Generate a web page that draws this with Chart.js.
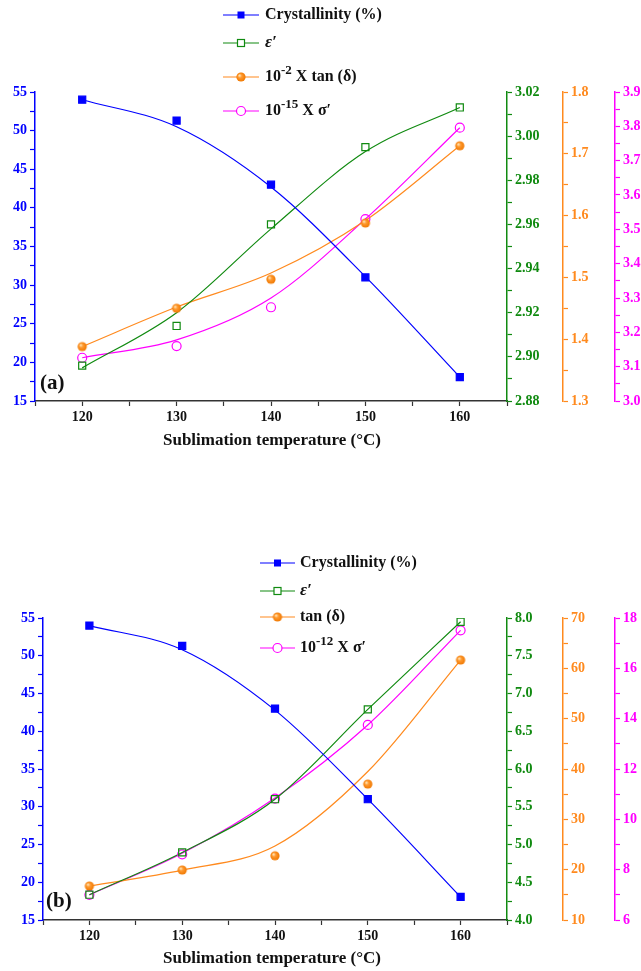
<!DOCTYPE html>
<html>
<head>
<meta charset="utf-8">
<script src="https://cdn.jsdelivr.net/npm/chart.js@4"></script>
<style>
  html, body { margin: 0; padding: 0; background: #fff; }
  #wrap { position: relative; width: 641px; height: 971px; overflow: hidden; }
  canvas { position: absolute; left: 0; }
</style>
</head>
<body>
<div id="wrap">
  <canvas id="chartA" width="641" height="470" style="top:0"></canvas>
  <canvas id="chartB" width="641" height="501" style="top:470px"></canvas>
</div>
<script>
// ---------- data ----------
const temps = [120, 130, 140, 150, 160];
const xTickLabels = [120, 130, 140, 150, 160];

// panel (a)
const crystA    = [54.0, 51.3, 43.0, 31.0, 18.1];
const crystFitA = [54.0, 50.5, 42.7, 31.1, 18.1];
const epsA      = [2.896, 2.914, 2.960, 2.995, 3.013];
const epsFitA   = [2.895, 2.920, 2.958, 2.993, 3.013];
const tanA      = [1.388, 1.450, 1.497, 1.588, 1.713];
const tanFitA   = [1.388, 1.452, 1.507, 1.592, 1.713];
const sigA      = [3.126, 3.160, 3.273, 3.530, 3.796];
const sigFitA   = [3.126, 3.178, 3.300, 3.530, 3.796];

// panel (b)
const crystB    = [54.0, 51.3, 43.0, 31.0, 18.05];
const crystFitB = [54.0, 50.8, 42.8, 31.0, 18.05];
const epsB      = [4.335, 4.895, 5.600, 6.790, 7.950];
const epsFitB   = [4.335, 4.895, 5.600, 6.790, 7.950];
const tanB      = [16.75, 19.93, 22.76, 37.0, 61.65];
const tanFitB   = [16.75, 19.90, 24.70, 39.5, 61.65];
const sigB      = [7.00, 8.61, 10.82, 13.75, 17.51];
const sigFitB   = [7.00, 8.65, 10.85, 13.75, 17.51];

// ---------- styles ----------
const BLUE = '#0000FF', GREEN = '#108A10', ORANGE = '#FF8A1E', MAGENTA = '#FF00FF';
const SERIF = '"Liberation Serif", "Times New Roman", serif';

// orange sphere marker
function makeSphere(r) {
  const c = document.createElement('canvas');
  const s = Math.ceil(r * 2 + 2);
  c.width = s; c.height = s;
  const g = c.getContext('2d');
  const cx = s / 2, cy = s / 2;
  const grad = g.createRadialGradient(cx - r * 0.35, cy - r * 0.35, 0.5, cx, cy, r);
  grad.addColorStop(0, '#FFE2B0');
  grad.addColorStop(0.35, '#FF9A30');
  grad.addColorStop(1, '#F07800');
  g.fillStyle = grad;
  g.beginPath(); g.arc(cx, cy, r, 0, Math.PI * 2); g.fill();
  return c;
}
const sphere = makeSphere(4.6);

function pts(xs, ys) { return xs.map((x, i) => ({ x: x, y: ys[i] })); }

function markerSet(label, data, axis, color, kind) {
  const ds = { label, data, yAxisID: axis, showLine: false, borderColor: color, pointBorderColor: color,
               pointBorderWidth: 1.2, pointHoverRadius: 0 };
  if (kind === 'fsq') { ds.pointStyle = 'rect'; ds.pointRadius = 5; ds.pointBackgroundColor = color; }
  if (kind === 'osq') { ds.pointStyle = 'rect'; ds.pointRadius = 5; ds.pointBackgroundColor = 'rgba(255,255,255,0)'; }
  if (kind === 'ocir') { ds.pointStyle = 'circle'; ds.pointRadius = 4.5; ds.pointBackgroundColor = 'rgba(255,255,255,0)'; }
  if (kind === 'sph') { ds.pointStyle = sphere; ds.pointRadius = 5; }
  return ds;
}
function fitSet(data, axis, color) {
  return { data, yAxisID: axis, showLine: true, borderColor: color, borderWidth: 1.2, pointRadius: 0,
           cubicInterpolationMode: 'monotone', fill: false };
}

function yAxis(pos, min, max, step, color, width, labelFn) {
  return {
    type: 'linear', position: pos, min, max,
    afterFit: s => { s.width = width; },
    grid: { drawOnChartArea: false, drawTicks: true, tickLength: 5, tickColor: color, tickWidth: 1.2 },
    border: { display: true, color: color, width: 1.5 },
    ticks: { stepSize: step, autoSkip: false, maxTicksLimit: 200, color: color, padding: 3,
             font: { family: SERIF, weight: 'bold', size: 14 }, callback: labelFn }
  };
}
function xAxis(height) {
  return {
    type: 'linear', position: 'bottom', min: 115, max: 165,
    afterFit: s => { s.height = height; },
    grid: { drawOnChartArea: false, drawTicks: true, tickLength: 5, tickColor: '#333', tickWidth: 1.2 },
    border: { display: true, color: '#333', width: 1.6 },
    ticks: { stepSize: 5, autoSkip: false, maxRotation: 0, color: '#111', padding: 3,
             font: { family: SERIF, weight: 'bold', size: 14 },
             callback: v => (xTickLabels.indexOf(v) >= 0 ? String(v) : '') }
  };
}

// ---------- overlay plugin: legend, x title, panel label ----------
function drawMarker(ctx, kind, color, x, y) {
  ctx.save();
  ctx.lineWidth = 1.2; ctx.strokeStyle = color; ctx.fillStyle = color;
  if (kind === 'fsq') { ctx.fillRect(x - 3.5, y - 3.5, 7, 7); }
  if (kind === 'osq') { ctx.fillStyle = '#fff'; ctx.fillRect(x - 3.5, y - 3.5, 7, 7); ctx.strokeRect(x - 3.5, y - 3.5, 7, 7); }
  if (kind === 'ocir') { ctx.fillStyle = '#fff'; ctx.beginPath(); ctx.arc(x, y, 4.5, 0, Math.PI * 2); ctx.fill(); ctx.stroke(); }
  if (kind === 'sph') { ctx.drawImage(sphere, x - sphere.width / 2, y - sphere.height / 2); }
  ctx.restore();
}
function drawSegs(ctx, segs, x, y) {
  ctx.textBaseline = 'middle'; ctx.textAlign = 'left'; ctx.fillStyle = '#111';
  segs.forEach(s => {
    ctx.font = s.font;
    ctx.fillText(s.t, x, y + (s.dy || 0));
    x += ctx.measureText(s.t).width;
  });
}
const F = 'bold 16px ' + SERIF, FI = 'italic bold 17px ' + SERIF, FS = 'bold 13px ' + SERIF;

function overlay(cfg) {
  return {
    id: 'overlay',
    afterDraw(chart) {
      const ctx = chart.ctx;
      ctx.save();
      cfg.legend.forEach(r => {
        ctx.strokeStyle = r.color; ctx.lineWidth = 1.2;
        ctx.beginPath(); ctx.moveTo(cfg.lx1, r.y); ctx.lineTo(cfg.lx2, r.y); ctx.stroke();
        drawMarker(ctx, r.kind, r.color, (cfg.lx1 + cfg.lx2) / 2, r.y);
        drawSegs(ctx, r.segs, cfg.tx, r.y);
      });
      ctx.font = 'bold 17px ' + SERIF; ctx.fillStyle = '#111';
      ctx.textAlign = 'center'; ctx.textBaseline = 'middle';
      ctx.fillText('Sublimation temperature (°C)', 272, cfg.titleY);
      ctx.font = 'bold 21px ' + SERIF; ctx.textAlign = 'left';
      ctx.fillText(cfg.panel, cfg.panelX, cfg.panelY);
      ctx.restore();
    }
  };
}

function fmt(dec, every) {
  return v => {
    const k = Math.round(v / every * 1000) / 1000;
    return Math.abs(k - Math.round(k)) < 1e-6 ? v.toFixed(dec) : '';
  };
}

// ---------- chart (a) ----------
new Chart(document.getElementById('chartA'), {
  type: 'scatter',
  data: { datasets: [
    markerSet('Crystallinity (%)', pts(temps, crystA), 'yCr', BLUE, 'fsq'),
    markerSet("ε'", pts(temps, epsA), 'yEps', GREEN, 'osq'),
    markerSet('tan', pts(temps, tanA), 'yTan', ORANGE, 'sph'),
    markerSet('sigma', pts(temps, sigA), 'ySig', MAGENTA, 'ocir'),
    fitSet(pts(temps, crystFitA), 'yCr', BLUE),
    fitSet(pts(temps, epsFitA), 'yEps', GREEN),
    fitSet(pts(temps, tanFitA), 'yTan', ORANGE),
    fitSet(pts(temps, sigFitA), 'ySig', MAGENTA)
  ]},
  options: {
    responsive: false, animation: false, devicePixelRatio: 1,
    layout: { padding: { top: 92, bottom: 9, left: 0, right: 0 } },
    plugins: { legend: { display: false }, tooltip: { enabled: false } },
    events: [],
    scales: {
      x: xAxis(60),
      yCr: yAxis('left', 15, 55, 2.5, BLUE, 35, fmt(0, 5)),
      yEps: yAxis('right', 2.88, 3.02, 0.01, GREEN, 56, fmt(2, 0.02)),
      yTan: yAxis('right', 1.3, 1.8, 0.05, ORANGE, 52, fmt(1, 0.1)),
      ySig: yAxis('right', 3.0, 3.9, 0.05, MAGENTA, 26, fmt(1, 0.1))
    }
  },
  plugins: [overlay({
    lx1: 223, lx2: 259, tx: 265, titleY: 441, panel: '(a)', panelX: 40, panelY: 384,
    legend: [
      { y: 15, color: BLUE, kind: 'fsq', segs: [{ t: 'Crystallinity (%)', font: F }] },
      { y: 43, color: GREEN, kind: 'osq', segs: [{ t: 'ε′', font: FI }] },
      { y: 77, color: ORANGE, kind: 'sph', segs: [{ t: '10', font: F }, { t: '-2', font: FS, dy: -6 }, { t: ' X tan (δ)', font: F }] },
      { y: 111, color: MAGENTA, kind: 'ocir', segs: [{ t: '10', font: F }, { t: '-15', font: FS, dy: -6 }, { t: ' X σ′', font: F }] }
    ]
  })]
});

// ---------- chart (b) ----------
new Chart(document.getElementById('chartB'), {
  type: 'scatter',
  data: { datasets: [
    markerSet('Crystallinity (%)', pts(temps, crystB), 'yCr', BLUE, 'fsq'),
    markerSet("ε'", pts(temps, epsB), 'yEps', GREEN, 'osq'),
    markerSet('tan', pts(temps, tanB), 'yTan', ORANGE, 'sph'),
    markerSet('sigma', pts(temps, sigB), 'ySig', MAGENTA, 'ocir'),
    fitSet(pts(temps, crystFitB), 'yCr', BLUE),
    fitSet(pts(temps, epsFitB), 'yEps', GREEN),
    fitSet(pts(temps, tanFitB), 'yTan', ORANGE),
    fitSet(pts(temps, sigFitB), 'ySig', MAGENTA)
  ]},
  options: {
    responsive: false, animation: false, devicePixelRatio: 1,
    layout: { padding: { top: 148, bottom: 0, left: 0, right: 0 } },
    plugins: { legend: { display: false }, tooltip: { enabled: false } },
    events: [],
    scales: {
      x: xAxis(51),
      yCr: yAxis('left', 15, 55, 2.5, BLUE, 43, fmt(0, 5)),
      yEps: yAxis('right', 4.0, 8.0, 0.25, GREEN, 56, fmt(1, 0.5)),
      yTan: yAxis('right', 10, 70, 5, ORANGE, 52, fmt(0, 10)),
      ySig: yAxis('right', 6, 18, 1, MAGENTA, 26, fmt(0, 2))
    }
  },
  plugins: [overlay({
    lx1: 260, lx2: 295, tx: 300, titleY: 489, panel: '(b)', panelX: 46, panelY: 432,
    legend: [
      { y: 93, color: BLUE, kind: 'fsq', segs: [{ t: 'Crystallinity (%)', font: F }] },
      { y: 121, color: GREEN, kind: 'osq', segs: [{ t: 'ε′', font: FI }] },
      { y: 147, color: ORANGE, kind: 'sph', segs: [{ t: 'tan (δ)', font: F }] },
      { y: 178, color: MAGENTA, kind: 'ocir', segs: [{ t: '10', font: F }, { t: '-12', font: FS, dy: -6 }, { t: ' X σ′', font: F }] }
    ]
  })]
});
</script>
</body>
</html>
